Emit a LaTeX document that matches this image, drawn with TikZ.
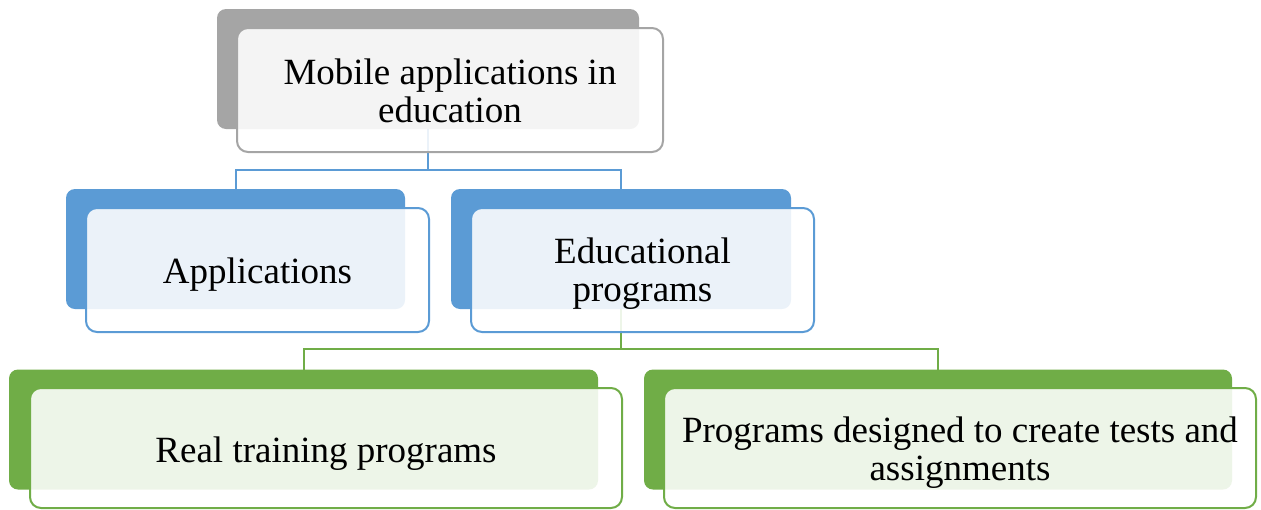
\documentclass[tikz,border=0pt]{standalone}
\usepackage{fontspec}
\setmainfont{Liberation Serif}
\definecolor{cgray}{HTML}{A5A5A5}
\definecolor{cblue}{HTML}{5B9BD5}
\definecolor{cgreen}{HTML}{70AD47}
\begin{document}
\begin{tikzpicture}[x=1pt,y=-1pt,
  backbox/.style={rectangle, rounded corners=9pt, inner sep=0pt, outer sep=0pt, fill=#1, draw=none},
  frontbox/.style={rectangle, rounded corners=11pt, inner sep=0pt, outer sep=0pt, draw=#1, line width=2pt,
    fill=white, fill opacity=0.88},
  label text/.style={inner sep=0pt, align=center, font=\fontsize{37}{38}\selectfont},
  conn/.style={draw=#1, line width=2pt}
]
\useasboundingbox (0,0) rectangle (1261,509);
% back boxes
\node[backbox=cgray, minimum width=422pt, minimum height=120pt] (topB) at (428,69) {};
\node[backbox=cblue, minimum width=339pt, minimum height=120pt] (appB) at (235.5,249) {};
\node[backbox=cblue, minimum width=340pt, minimum height=120pt] (eduB) at (621,249) {};
\node[backbox=cgreen, minimum width=589pt, minimum height=120pt] (realB) at (303.5,429.5) {};
\node[backbox=cgreen, minimum width=588pt, minimum height=120pt] (progB) at (938,429.5) {};
% connectors
\path (topB.south) ++(0,41) coordinate (j1);
\path (eduB.south) ++(0,40) coordinate (j2);
\draw[conn=cblue] (topB.south) -- (j1);
\draw[conn=cblue] (appB.north) |- (j1) -| (eduB.north);
\draw[conn=cgreen] (eduB.south) -- (j2);
\draw[conn=cgreen] (realB.north) |- (j2) -| (progB.north);
% front boxes
\node[frontbox=cgray, minimum width=426pt, minimum height=124pt] (top) at (450,90) {};
\node[frontbox=cblue, minimum width=343pt, minimum height=124pt] (app) at (257.5,270) {};
\node[frontbox=cblue, minimum width=343pt, minimum height=124pt] (edu) at (642.5,270) {};
\node[frontbox=cgreen, minimum width=592pt, minimum height=120pt] (real) at (326,448) {};
\node[frontbox=cgreen, minimum width=592pt, minimum height=120pt] (prog) at (960,448) {};
% texts
\node[label text] (topT) at ([yshift=-0.5pt]top.center) {Mobile applications in\\education};
\node[label text] (appT) at ([yshift=-4.5pt]app.center) {Applications};
\node[label text] (eduT) at ([yshift=-4pt]edu.center) {Educational\\programs};
\node[label text] (realT) at ([yshift=-6pt]real.center) {Real training programs};
\node[label text] (progT) at ([yshift=-5pt]prog.center) {Programs designed to create tests and\\assignments};
\end{tikzpicture}
\end{document}
